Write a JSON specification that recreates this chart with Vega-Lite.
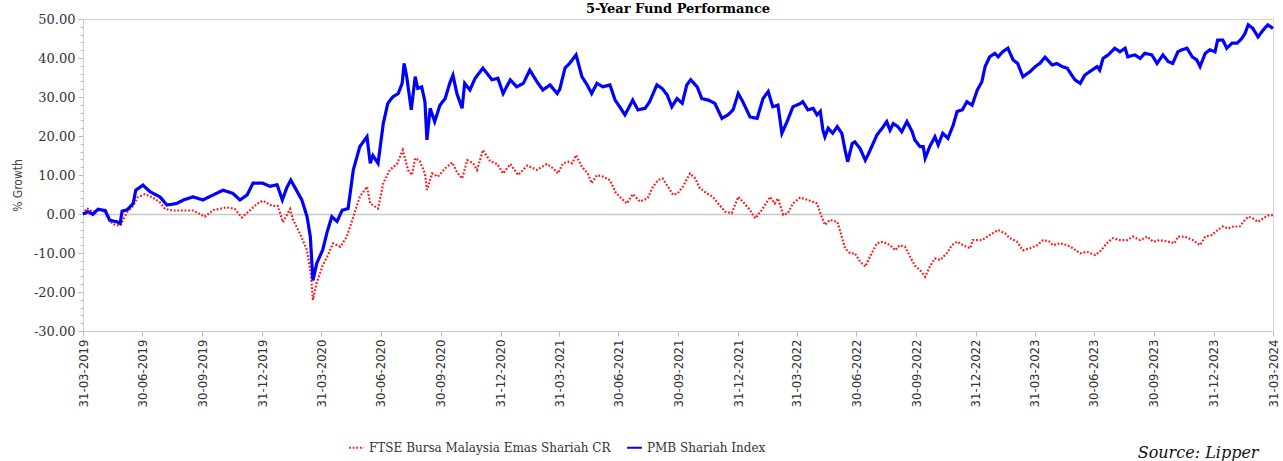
{
"$schema": "https://vega.github.io/schema/vega-lite/v6.json",
"width": 1190,
"height": 312,
"autosize": {"type": "none"},
"padding": {"left": 83, "top": 19, "right": 10, "bottom": 130},
"background": "white",
"title": {"text": "5-Year Fund Performance", "font": "DejaVu Serif", "fontSize": 13, "fontWeight": "bold", "color": "#000000", "anchor": "middle", "offset": 1, "dy": 4},
"datasets": {
"ftse": [
{"d":"2019-03-31","v":0},{"d":"2019-04-06","v":1.5},{"d":"2019-04-15","v":0.5},{"d":"2019-04-26","v":1.3},{"d":"2019-05-07","v":0},{"d":"2019-05-15","v":-2.6},{"d":"2019-05-27","v":-3},{"d":"2019-06-07","v":0.5},{"d":"2019-06-16","v":2.1},{"d":"2019-06-23","v":4.3},{"d":"2019-07-04","v":5.1},{"d":"2019-07-15","v":4.3},{"d":"2019-07-27","v":3},{"d":"2019-08-04","v":1.3},{"d":"2019-08-16","v":0.9},{"d":"2019-09-01","v":0.9},{"d":"2019-09-16","v":0.9},{"d":"2019-10-04","v":-0.7},{"d":"2019-10-17","v":1.0},{"d":"2019-11-07","v":1.7},{"d":"2019-11-19","v":1.3},{"d":"2019-11-30","v":-0.9},{"d":"2019-12-12","v":0.9},{"d":"2019-12-23","v":2.6},{"d":"2020-01-01","v":3.4},{"d":"2020-01-15","v":2.1},{"d":"2020-01-24","v":2.1},{"d":"2020-02-01","v":-2.1},{"d":"2020-02-12","v":1.3},{"d":"2020-02-16","v":-1.3},{"d":"2020-02-27","v":-5.0},{"d":"2020-03-09","v":-9.3},{"d":"2020-03-15","v":-15.7},{"d":"2020-03-18","v":-22},{"d":"2020-03-24","v":-17.5},{"d":"2020-04-02","v":-13.2},{"d":"2020-04-09","v":-10.9},{"d":"2020-04-18","v":-7.5},{"d":"2020-04-29","v":-8.4},{"d":"2020-05-09","v":-5.8},{"d":"2020-05-19","v":-0.7},{"d":"2020-05-29","v":4.4},{"d":"2020-06-09","v":7},{"d":"2020-06-14","v":2.7},{"d":"2020-06-26","v":1.4},{"d":"2020-07-04","v":7.9},{"d":"2020-07-14","v":11.3},{"d":"2020-07-25","v":12.8},{"d":"2020-08-03","v":16.4},{"d":"2020-08-11","v":11.3},{"d":"2020-08-17","v":10},{"d":"2020-08-22","v":14.3},{"d":"2020-08-29","v":13.6},{"d":"2020-09-06","v":10.4},{"d":"2020-09-09","v":6.2},{"d":"2020-09-17","v":10.4},{"d":"2020-09-26","v":9.6},{"d":"2020-10-07","v":11.7},{"d":"2020-10-18","v":13.2},{"d":"2020-10-25","v":10.8},{"d":"2020-11-02","v":9.1},{"d":"2020-11-10","v":13.8},{"d":"2020-11-19","v":13},{"d":"2020-11-25","v":11.3},{"d":"2020-12-04","v":16.4},{"d":"2020-12-15","v":13.6},{"d":"2020-12-26","v":12.8},{"d":"2021-01-04","v":10.4},{"d":"2021-01-15","v":12.8},{"d":"2021-01-27","v":10},{"d":"2021-02-10","v":12.4},{"d":"2021-02-25","v":11.3},{"d":"2021-03-12","v":12.8},{"d":"2021-03-22","v":11.7},{"d":"2021-03-29","v":10.4},{"d":"2021-04-06","v":13},{"d":"2021-04-14","v":13.4},{"d":"2021-04-20","v":13},{"d":"2021-04-26","v":15.1},{"d":"2021-05-05","v":12.1},{"d":"2021-05-14","v":10.4},{"d":"2021-05-20","v":7.9},{"d":"2021-05-28","v":10},{"d":"2021-06-06","v":9.6},{"d":"2021-06-17","v":8.7},{"d":"2021-06-25","v":5.7},{"d":"2021-07-02","v":4.4},{"d":"2021-07-13","v":2.7},{"d":"2021-07-22","v":5.1},{"d":"2021-08-02","v":3.2},{"d":"2021-08-14","v":4.0},{"d":"2021-08-22","v":7},{"d":"2021-08-30","v":8.7},{"d":"2021-09-06","v":9.1},{"d":"2021-09-14","v":7},{"d":"2021-09-22","v":4.9},{"d":"2021-09-29","v":5.3},{"d":"2021-10-07","v":7},{"d":"2021-10-18","v":10.4},{"d":"2021-10-26","v":9.1},{"d":"2021-11-02","v":6.6},{"d":"2021-11-13","v":5.3},{"d":"2021-11-22","v":4.4},{"d":"2021-11-30","v":2.7},{"d":"2021-12-11","v":0.6},{"d":"2021-12-21","v":0.2},{"d":"2021-12-31","v":4.4},{"d":"2022-01-07","v":3.2},{"d":"2022-01-18","v":1.0},{"d":"2022-01-26","v":-1.1},{"d":"2022-02-05","v":1.0},{"d":"2022-02-18","v":4.4},{"d":"2022-02-25","v":2.7},{"d":"2022-03-02","v":4.0},{"d":"2022-03-10","v":-0.2},{"d":"2022-03-17","v":0.2},{"d":"2022-03-25","v":2.7},{"d":"2022-04-05","v":4.2},{"d":"2022-04-17","v":3.6},{"d":"2022-05-01","v":2.7},{"d":"2022-05-06","v":0.2},{"d":"2022-05-13","v":-2.8},{"d":"2022-05-21","v":-1.5},{"d":"2022-06-01","v":-2},{"d":"2022-06-05","v":-4.1},{"d":"2022-06-13","v":-8.8},{"d":"2022-06-21","v":-10.1},{"d":"2022-06-28","v":-10.1},{"d":"2022-07-06","v":-12.2},{"d":"2022-07-14","v":-13.5},{"d":"2022-07-21","v":-11},{"d":"2022-08-01","v":-7.5},{"d":"2022-08-10","v":-7.1},{"d":"2022-08-21","v":-8},{"d":"2022-08-29","v":-9.3},{"d":"2022-09-05","v":-8},{"d":"2022-09-13","v":-8.4},{"d":"2022-09-21","v":-11},{"d":"2022-09-28","v":-13.2},{"d":"2022-10-06","v":-14.4},{"d":"2022-10-14","v":-16.1},{"d":"2022-10-21","v":-13.5},{"d":"2022-10-29","v":-11.4},{"d":"2022-11-06","v":-11.8},{"d":"2022-11-16","v":-10.1},{"d":"2022-11-24","v":-8},{"d":"2022-12-02","v":-7.1},{"d":"2022-12-11","v":-8},{"d":"2022-12-22","v":-8.8},{"d":"2022-12-26","v":-6.7},{"d":"2023-01-09","v":-6.7},{"d":"2023-01-21","v":-5.4},{"d":"2023-02-03","v":-4.1},{"d":"2023-02-14","v":-5},{"d":"2023-02-21","v":-6.2},{"d":"2023-03-04","v":-7.1},{"d":"2023-03-13","v":-9.3},{"d":"2023-03-24","v":-8.8},{"d":"2023-04-04","v":-8},{"d":"2023-04-13","v":-6.7},{"d":"2023-04-22","v":-7},{"d":"2023-04-28","v":-8},{"d":"2023-05-09","v":-7.5},{"d":"2023-05-20","v":-8},{"d":"2023-05-29","v":-8.8},{"d":"2023-06-09","v":-10.1},{"d":"2023-06-19","v":-9.7},{"d":"2023-07-02","v":-10.5},{"d":"2023-07-09","v":-9.7},{"d":"2023-07-20","v":-7.5},{"d":"2023-07-29","v":-6.2},{"d":"2023-08-09","v":-6.7},{"d":"2023-08-20","v":-6.7},{"d":"2023-08-29","v":-5.8},{"d":"2023-09-09","v":-6.7},{"d":"2023-09-20","v":-5.8},{"d":"2023-09-29","v":-7.1},{"d":"2023-10-09","v":-6.7},{"d":"2023-10-22","v":-7.1},{"d":"2023-11-01","v":-7.5},{"d":"2023-11-06","v":-5.8},{"d":"2023-11-17","v":-5.8},{"d":"2023-11-29","v":-6.7},{"d":"2023-12-10","v":-8},{"d":"2023-12-18","v":-5.8},{"d":"2023-12-28","v":-5.4},{"d":"2024-01-06","v":-4.1},{"d":"2024-01-14","v":-3.2},{"d":"2024-01-22","v":-3.7},{"d":"2024-01-30","v":-3.2},{"d":"2024-02-09","v":-3.2},{"d":"2024-02-17","v":-1.5},{"d":"2024-02-22","v":-0.7},{"d":"2024-02-29","v":-1.1},{"d":"2024-03-08","v":-2},{"d":"2024-03-16","v":-1.1},{"d":"2024-03-23","v":-0.4},{"d":"2024-03-31","v":-0.3}
],
"pmb": [
{"d":"2019-03-31","v":0},{"d":"2019-04-08","v":0.6},{"d":"2019-04-15","v":-0.1},{"d":"2019-04-23","v":1.2},{"d":"2019-05-04","v":0.9},{"d":"2019-05-11","v":-1.6},{"d":"2019-05-22","v":-2.0},{"d":"2019-05-27","v":-2.4},{"d":"2019-05-30","v":0.7},{"d":"2019-06-07","v":1.1},{"d":"2019-06-16","v":2.7},{"d":"2019-06-20","v":6.1},{"d":"2019-07-01","v":7.4},{"d":"2019-07-12","v":5.7},{"d":"2019-07-27","v":4.4},{"d":"2019-08-07","v":2.3},{"d":"2019-08-22","v":2.7},{"d":"2019-09-01","v":3.6},{"d":"2019-09-16","v":4.4},{"d":"2019-10-01","v":3.6},{"d":"2019-10-17","v":4.9},{"d":"2019-11-01","v":6.1},{"d":"2019-11-16","v":5.3},{"d":"2019-11-27","v":3.6},{"d":"2019-12-08","v":4.9},{"d":"2019-12-17","v":7.9},{"d":"2020-01-01","v":7.9},{"d":"2020-01-12","v":7.1},{"d":"2020-01-23","v":7.5},{"d":"2020-01-31","v":3.6},{"d":"2020-02-07","v":6.8},{"d":"2020-02-13","v":8.7},{"d":"2020-02-23","v":5.7},{"d":"2020-03-01","v":3.6},{"d":"2020-03-09","v":-0.7},{"d":"2020-03-14","v":-5.8},{"d":"2020-03-18","v":-17},{"d":"2020-03-24","v":-12.6},{"d":"2020-04-02","v":-9.2},{"d":"2020-04-09","v":-4.5},{"d":"2020-04-16","v":-0.7},{"d":"2020-04-24","v":-1.9},{"d":"2020-05-02","v":1},{"d":"2020-05-11","v":1.4},{"d":"2020-05-19","v":11.3},{"d":"2020-05-29","v":17.3},{"d":"2020-06-09","v":19.8},{"d":"2020-06-14","v":13},{"d":"2020-06-18","v":15},{"d":"2020-06-26","v":13},{"d":"2020-07-04","v":23.2},{"d":"2020-07-11","v":28.4},{"d":"2020-07-19","v":30.1},{"d":"2020-07-27","v":30.9},{"d":"2020-08-02","v":33.5},{"d":"2020-08-05","v":38.6},{"d":"2020-08-09","v":35.2},{"d":"2020-08-16","v":26.7},{"d":"2020-08-22","v":35.2},{"d":"2020-08-26","v":32.2},{"d":"2020-09-01","v":32.6},{"d":"2020-09-06","v":28.8},{"d":"2020-09-09","v":19},{"d":"2020-09-14","v":27.1},{"d":"2020-09-21","v":23.7},{"d":"2020-09-29","v":27.9},{"d":"2020-10-07","v":29.6},{"d":"2020-10-14","v":33.5},{"d":"2020-10-19","v":35.6},{"d":"2020-10-25","v":30.9},{"d":"2020-11-02","v":27.1},{"d":"2020-11-06","v":33.5},{"d":"2020-11-14","v":31.8},{"d":"2020-11-22","v":34.8},{"d":"2020-12-04","v":37.4},{"d":"2020-12-18","v":34.4},{"d":"2020-12-27","v":34.8},{"d":"2021-01-04","v":30.9},{"d":"2021-01-15","v":34.4},{"d":"2021-01-25","v":32.6},{"d":"2021-02-04","v":33.5},{"d":"2021-02-14","v":36.9},{"d":"2021-02-25","v":33.9},{"d":"2021-03-06","v":31.8},{"d":"2021-03-17","v":33.1},{"d":"2021-03-28","v":30.9},{"d":"2021-04-01","v":32},{"d":"2021-04-09","v":37.4},{"d":"2021-04-17","v":38.8},{"d":"2021-04-26","v":40.8},{"d":"2021-05-05","v":35.2},{"d":"2021-05-13","v":33.1},{"d":"2021-05-20","v":30.9},{"d":"2021-05-28","v":33.5},{"d":"2021-06-06","v":32.6},{"d":"2021-06-17","v":33.1},{"d":"2021-06-25","v":29.2},{"d":"2021-07-02","v":27.5},{"d":"2021-07-10","v":25.4},{"d":"2021-07-22","v":29.2},{"d":"2021-07-30","v":26.7},{"d":"2021-08-10","v":27.1},{"d":"2021-08-17","v":28.8},{"d":"2021-08-28","v":33.1},{"d":"2021-09-05","v":32.2},{"d":"2021-09-13","v":30.5},{"d":"2021-09-20","v":27.5},{"d":"2021-09-28","v":29.6},{"d":"2021-10-06","v":28.4},{"d":"2021-10-13","v":33.1},{"d":"2021-10-19","v":34.4},{"d":"2021-10-29","v":32.6},{"d":"2021-11-05","v":29.6},{"d":"2021-11-15","v":29.2},{"d":"2021-11-25","v":28.4},{"d":"2021-12-06","v":24.5},{"d":"2021-12-15","v":25.4},{"d":"2021-12-23","v":26.7},{"d":"2021-12-31","v":30.9},{"d":"2022-01-07","v":28.8},{"d":"2022-01-18","v":24.9},{"d":"2022-01-29","v":24.5},{"d":"2022-02-07","v":29.6},{"d":"2022-02-15","v":31.4},{"d":"2022-02-22","v":27.5},{"d":"2022-03-02","v":27.9},{"d":"2022-03-08","v":20.7},{"d":"2022-03-16","v":23.7},{"d":"2022-03-25","v":27.5},{"d":"2022-04-05","v":28.3},{"d":"2022-04-09","v":28.8},{"d":"2022-04-17","v":26.7},{"d":"2022-04-25","v":27.1},{"d":"2022-05-01","v":25.4},{"d":"2022-05-06","v":26.3},{"d":"2022-05-10","v":21.5},{"d":"2022-05-13","v":19.8},{"d":"2022-05-18","v":22},{"d":"2022-05-25","v":20.7},{"d":"2022-06-01","v":22.4},{"d":"2022-06-08","v":20.7},{"d":"2022-06-13","v":16.4},{"d":"2022-06-17","v":13.4},{"d":"2022-06-24","v":18.1},{"d":"2022-06-28","v":18.5},{"d":"2022-07-06","v":16.8},{"d":"2022-07-14","v":13.8},{"d":"2022-07-18","v":15.1},{"d":"2022-07-24","v":17.3},{"d":"2022-08-01","v":20.3},{"d":"2022-08-09","v":22},{"d":"2022-08-16","v":23.7},{"d":"2022-08-21","v":21.5},{"d":"2022-08-26","v":23.2},{"d":"2022-09-02","v":22.4},{"d":"2022-09-08","v":21.1},{"d":"2022-09-16","v":23.7},{"d":"2022-09-24","v":21.1},{"d":"2022-09-28","v":19},{"d":"2022-10-06","v":17.3},{"d":"2022-10-11","v":17.3},{"d":"2022-10-14","v":14.3},{"d":"2022-10-21","v":17.3},{"d":"2022-10-29","v":19.8},{"d":"2022-11-03","v":17.7},{"d":"2022-11-10","v":20.7},{"d":"2022-11-18","v":19.4},{"d":"2022-11-26","v":22.8},{"d":"2022-12-02","v":26.3},{"d":"2022-12-10","v":26.7},{"d":"2022-12-17","v":28.8},{"d":"2022-12-25","v":27.9},{"d":"2023-01-02","v":31.8},{"d":"2023-01-09","v":33.9},{"d":"2023-01-14","v":37.8},{"d":"2023-01-21","v":40.3},{"d":"2023-01-29","v":41.2},{"d":"2023-02-03","v":40.3},{"d":"2023-02-10","v":41.6},{"d":"2023-02-18","v":42.5},{"d":"2023-02-26","v":39.5},{"d":"2023-03-05","v":38.6},{"d":"2023-03-13","v":35.2},{"d":"2023-03-24","v":36.5},{"d":"2023-04-01","v":37.8},{"d":"2023-04-08","v":38.6},{"d":"2023-04-16","v":40.2},{"d":"2023-04-27","v":38.2},{"d":"2023-05-04","v":38.6},{"d":"2023-05-12","v":37.8},{"d":"2023-05-20","v":37.4},{"d":"2023-05-27","v":35.6},{"d":"2023-06-01","v":34.4},{"d":"2023-06-09","v":33.5},{"d":"2023-06-16","v":35.6},{"d":"2023-06-27","v":36.9},{"d":"2023-07-05","v":37.8},{"d":"2023-07-09","v":36.9},{"d":"2023-07-14","v":39.9},{"d":"2023-07-22","v":40.8},{"d":"2023-08-01","v":42.5},{"d":"2023-08-09","v":41.6},{"d":"2023-08-17","v":42.5},{"d":"2023-08-21","v":40.3},{"d":"2023-09-01","v":40.8},{"d":"2023-09-09","v":39.9},{"d":"2023-09-16","v":41.2},{"d":"2023-09-27","v":40.8},{"d":"2023-10-05","v":38.6},{"d":"2023-10-14","v":40.8},{"d":"2023-10-22","v":39.1},{"d":"2023-10-29","v":38.6},{"d":"2023-11-06","v":41.6},{"d":"2023-11-12","v":42.1},{"d":"2023-11-20","v":42.5},{"d":"2023-11-28","v":40.3},{"d":"2023-12-05","v":39.5},{"d":"2023-12-10","v":37.8},{"d":"2023-12-18","v":41.2},{"d":"2023-12-25","v":42.1},{"d":"2024-01-02","v":41.6},{"d":"2024-01-06","v":44.6},{"d":"2024-01-14","v":44.6},{"d":"2024-01-20","v":42.5},{"d":"2024-01-28","v":43.8},{"d":"2024-02-05","v":43.8},{"d":"2024-02-12","v":45},{"d":"2024-02-17","v":46.3},{"d":"2024-02-22","v":48.5},{"d":"2024-02-29","v":47.6},{"d":"2024-03-08","v":45.4},{"d":"2024-03-16","v":47.2},{"d":"2024-03-23","v":48.5},{"d":"2024-03-31","v":47.6}
]
},
"encoding": {
"x": {"field": "d", "type": "temporal",
 "scale": {"type": "utc", "nice": false, "domain": [{"year": 2019, "month": 3, "date": 31, "utc": true}, {"year": 2024, "month": 3, "date": 31, "utc": true}]},
 "axis": {
  "values": [
   {"year": 2019, "month": 3, "date": 31, "utc": true}, {"year": 2019, "month": 6, "date": 30, "utc": true}, {"year": 2019, "month": 9, "date": 30, "utc": true}, {"year": 2019, "month": 12, "date": 31, "utc": true},
   {"year": 2020, "month": 3, "date": 31, "utc": true}, {"year": 2020, "month": 6, "date": 30, "utc": true}, {"year": 2020, "month": 9, "date": 30, "utc": true}, {"year": 2020, "month": 12, "date": 31, "utc": true},
   {"year": 2021, "month": 3, "date": 31, "utc": true}, {"year": 2021, "month": 6, "date": 30, "utc": true}, {"year": 2021, "month": 9, "date": 30, "utc": true}, {"year": 2021, "month": 12, "date": 31, "utc": true},
   {"year": 2022, "month": 3, "date": 31, "utc": true}, {"year": 2022, "month": 6, "date": 30, "utc": true}, {"year": 2022, "month": 9, "date": 30, "utc": true}, {"year": 2022, "month": 12, "date": 31, "utc": true},
   {"year": 2023, "month": 3, "date": 31, "utc": true}, {"year": 2023, "month": 6, "date": 30, "utc": true}, {"year": 2023, "month": 9, "date": 30, "utc": true}, {"year": 2023, "month": 12, "date": 31, "utc": true},
   {"year": 2024, "month": 3, "date": 31, "utc": true}
  ],
  "format": "%d-%m-%Y",
  "labelAngle": -90,
  "labelFlush": false,
  "labelOverlap": false,
  "labelFont": "Liberation Sans Narrow, DejaVu Sans Condensed, sans-serif",
  "labelFontSize": 13,
  "labelColor": "#333333",
  "labelPadding": 3,
  "tickSize": 5,
  "tickColor": "#bbbbbb",
  "domainColor": "#cccccc",
  "grid": false,
  "title": "Source: Lipper",
  "titleFont": "DejaVu Serif",
  "titleFontStyle": "italic",
  "titleFontWeight": "normal",
  "titleFontSize": 16,
  "titleColor": "#111111",
  "titleAlign": "right",
  "titleAnchor": "start",
  "titleBaseline": "alphabetic",
  "titleX": 1175,
  "titleY": 126
 }
},
"y": {"field": "v", "type": "quantitative",
 "scale": {"domain": [-30, 50], "nice": false, "zero": false},
 "axis": {
  "values": [-30,-28,-26,-24,-22,-20,-18,-16,-14,-12,-10,-8,-6,-4,-2,0,2,4,6,8,10,12,14,16,18,20,22,24,26,28,30,32,34,36,38,40,42,44,46,48,50],
  "labelExpr": "datum.value % 10 === 0 ? replace(format(datum.value, '.2f'), '\u2212', '-') : ''",
  "labelOverlap": false,
  "labelFont": "DejaVu Serif",
  "labelFontSize": 13,
  "labelColor": "#333333",
  "labelPadding": 3,
  "tickSize": {"condition": {"test": "datum.value % 10 === 0", "value": 5}, "value": 3},
  "tickColor": "#bbbbbb",
  "domainColor": "#cccccc",
  "grid": true,
  "gridColor": "#c8c8c8",
  "gridWidth": 1.5,
  "gridOpacity": {"condition": {"test": "datum.value === 0", "value": 1}, "value": 0},
  "title": "% Growth",
  "titleFont": "DejaVu Sans Condensed, Liberation Sans Narrow, sans-serif",
  "titleFontSize": 12,
  "titleFontWeight": "normal",
  "titleColor": "#444444",
  "titleAngle": -90,
  "titleAlign": "center",
  "titleBaseline": "middle",
  "titleX": -66,
  "titleY": 166
 }
}
},
"layer": [
{"data": {"name": "ftse"},
 "mark": {"type": "line", "strokeWidth": 2.2},
 "encoding": {
  "color": {"datum": "FTSE Bursa Malaysia Emas Shariah CR", "type": "nominal",
   "scale": {"domain": ["FTSE Bursa Malaysia Emas Shariah CR", "PMB Shariah Index"], "range": ["#ff1a1a", "#0000ff"]},
   "legend": {"title": null}},
  "strokeDash": {"datum": "FTSE Bursa Malaysia Emas Shariah CR", "type": "nominal",
   "scale": {"domain": ["FTSE Bursa Malaysia Emas Shariah CR", "PMB Shariah Index"], "range": [[1.8, 1.8], [1, 0]]},
   "legend": {"title": null}}
 }
},
{"data": {"name": "pmb"},
 "mark": {"type": "line", "strokeWidth": 3.2},
 "encoding": {
  "color": {"datum": "PMB Shariah Index", "type": "nominal"},
  "strokeDash": {"datum": "PMB Shariah Index", "type": "nominal"}
 }
}
],
"config": {
 "view": {"stroke": "#d4d4d4"},
 "legend": {
  "orient": "none",
  "legendX": 265,
  "legendY": 420,
  "direction": "horizontal",
  "labelFont": "DejaVu Serif",
  "labelFontSize": 12,
  "labelLimit": 400,
  "labelColor": "#333333",
  "symbolType": "stroke",
  "symbolSize": 220,
  "symbolStrokeWidth": 2,
  "columnPadding": 12,
  "labelOffset": 4
 }
}
}
